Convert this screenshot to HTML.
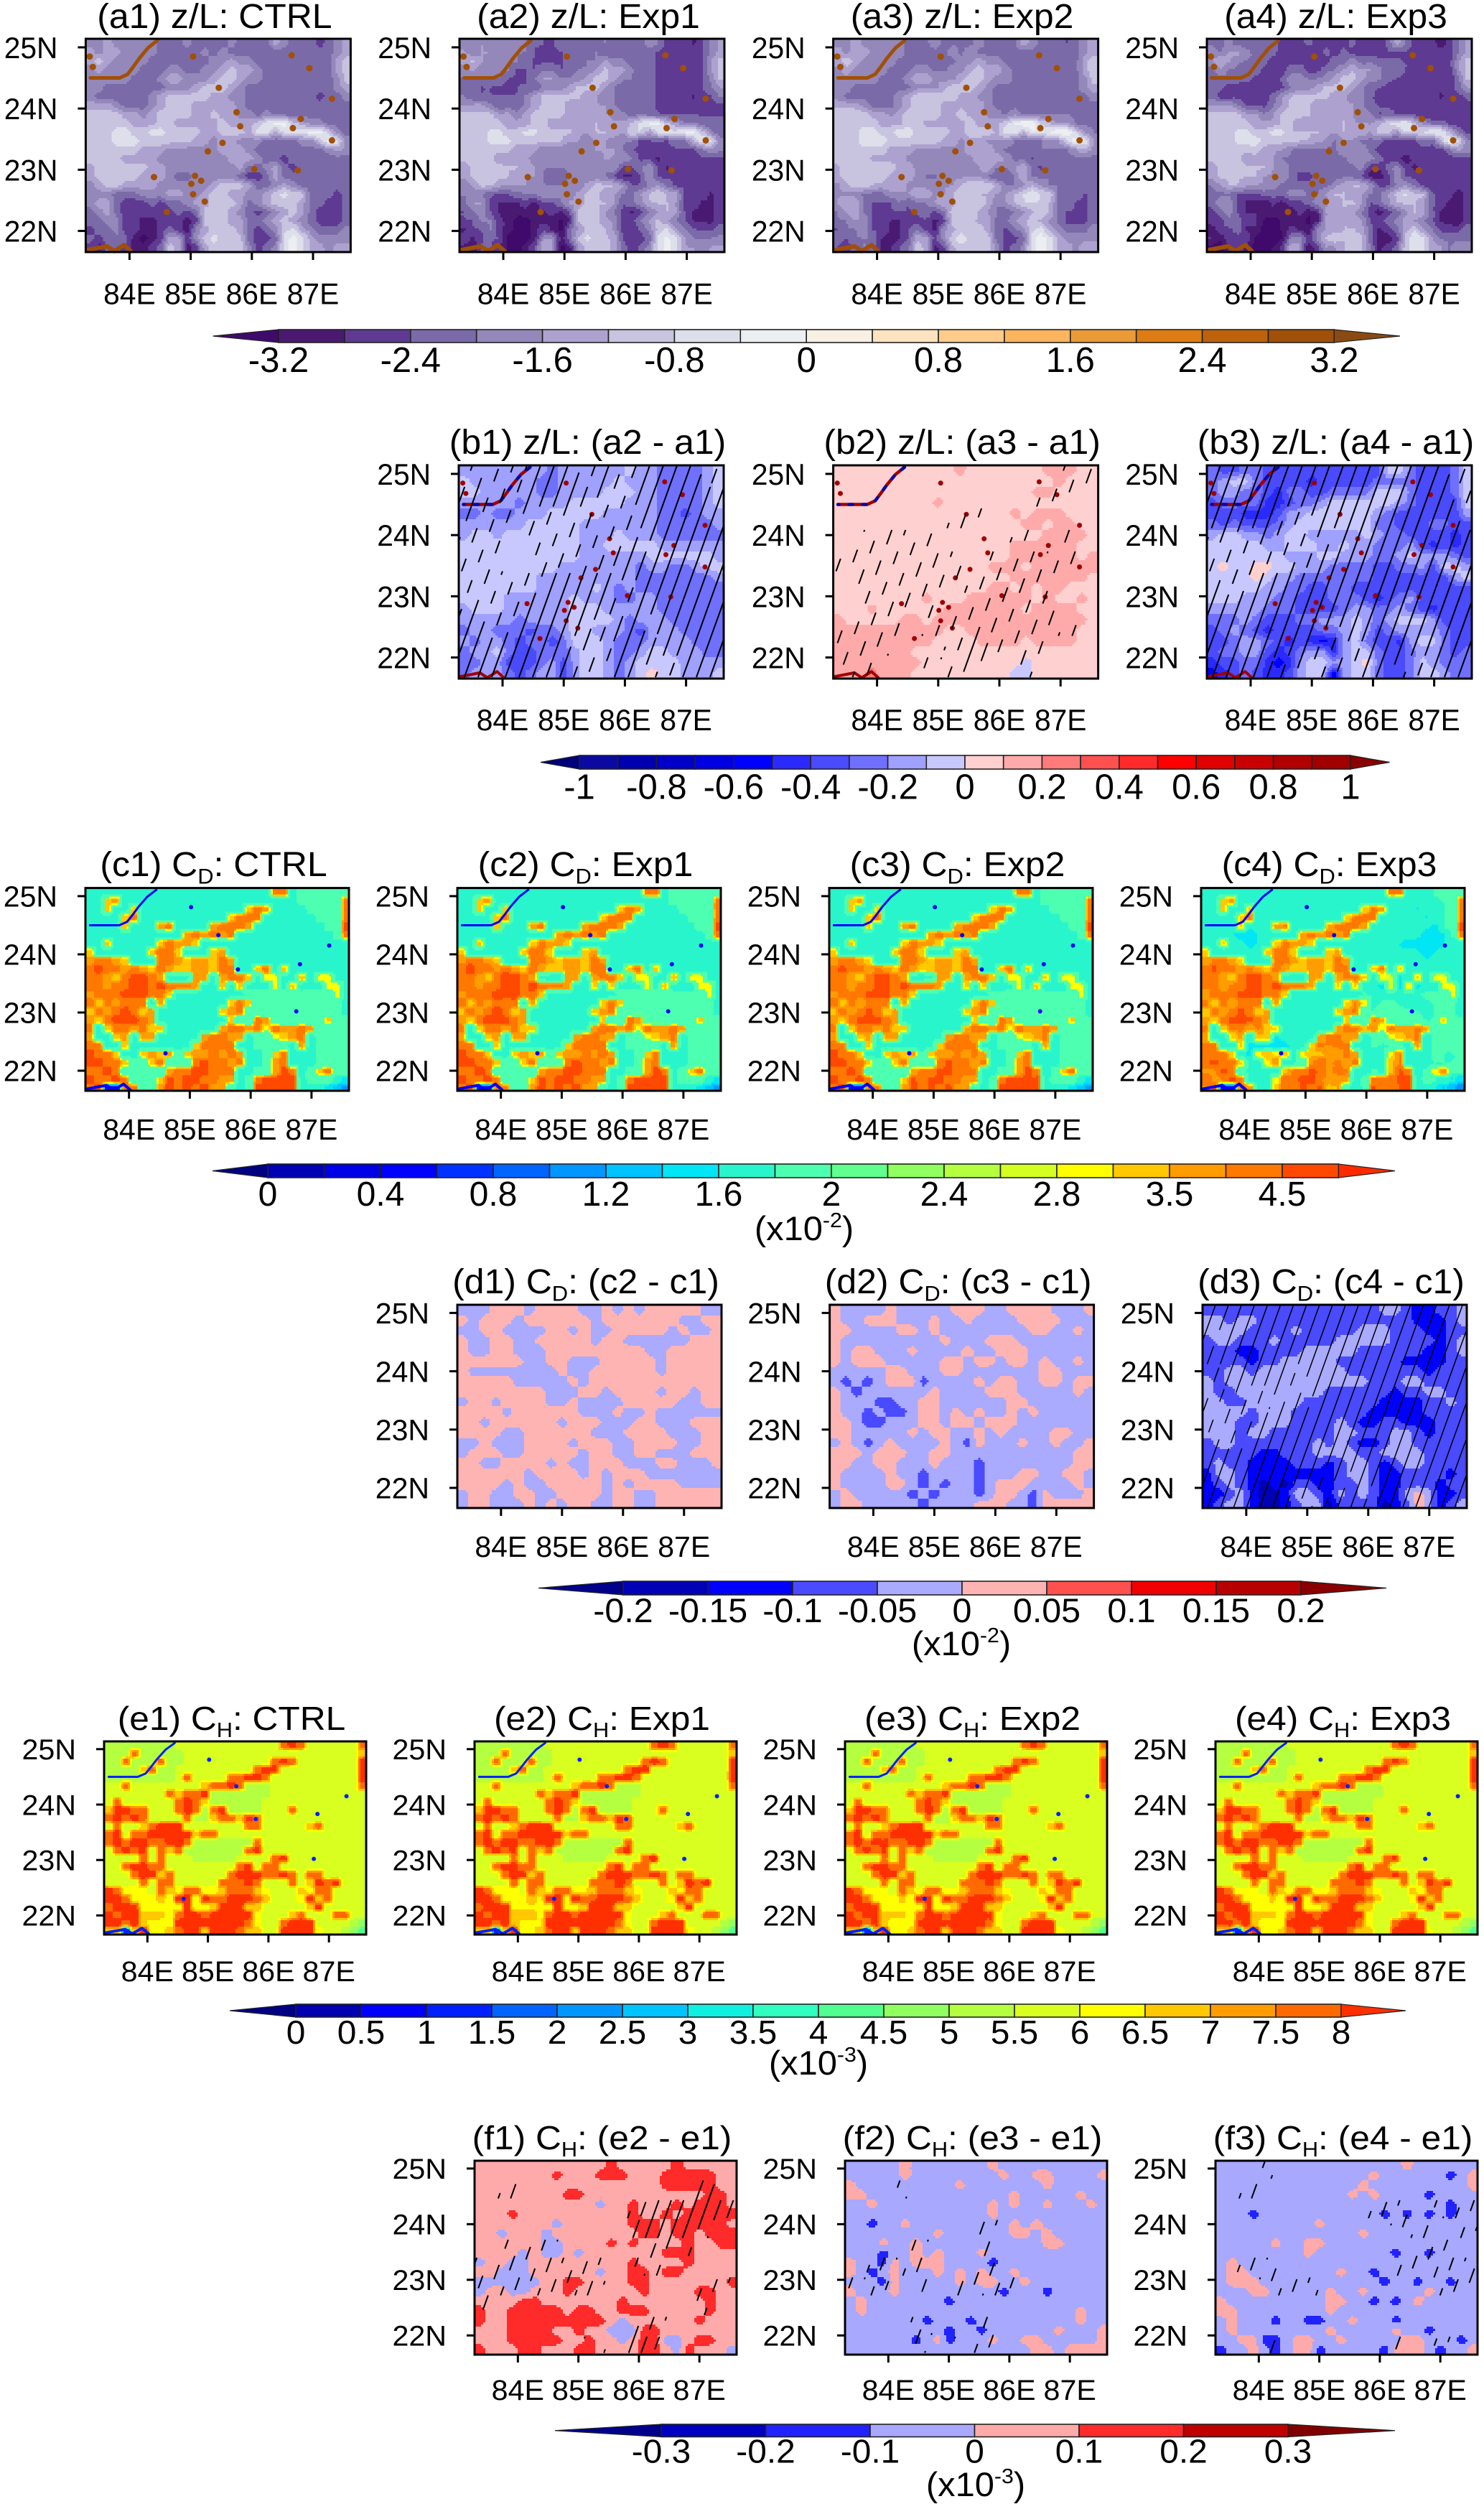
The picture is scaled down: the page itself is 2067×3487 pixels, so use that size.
<!DOCTYPE html>
<html lang="en">
<head>
<meta charset="utf-8">
<title>z/L, CD and CH maps</title>
<style>
html,body{margin:0;padding:0;background:#fff}
svg{display:block}
text{font-family:"Liberation Sans",Arial,sans-serif;fill:#000}
</style>
</head>
<body>
<svg id="figure" xmlns="http://www.w3.org/2000/svg" width="2067" height="3487" viewBox="0 0 2067 3487"></svg>
<script>
const lonTicks=[84,85,86,87];
const latTicks=[25,24,23,22];
const lonRange=[83.284,87.615];
const latRange=[25.14,21.655];

const paletteZl=['#3f0a6b','#4a1a72','#5e3a92','#7b6aa8','#9488ba','#ada2cf','#c8c3df','#dddfea','#eceef2','#f8f1e3','#fde3c0','#fdcb8a','#fdb45f','#eb9a38','#dc7c12','#bd620a','#a05007','#8a4a12'];
const paletteZlDiff=['#00007a','#0a0aa0','#0000b0','#0000c8','#0000e0','#0000ff','#2a2aff','#4a4aff','#7070ff','#a0a0ff','#c8c8ff','#ffd0d0','#ffaaaa','#ff7a7a','#ff5050','#ff2a2a','#ff0000','#e00000','#c80000','#b00000','#a00000','#8a0000'];
const paletteCd=['#000080','#0000b4','#0000e6','#0000ff','#0032ff','#0064ff','#0096ff','#00c4ff','#00e6f5','#28f5cc','#4dffb0','#60ff90','#90ff60','#b4ff40','#d4ff20','#ffff00','#ffc800','#ff9c00','#ff7800','#ff4800','#ff2a00'];
const paletteCdDiff=['#00008a','#0000b4','#0000ff','#4a4aff','#aaaaff','#ffb4b4','#ff5050','#f00000','#b80000','#8a0000'];
const paletteCh=['#000080','#0000b0','#0000ff','#0020ff','#0064ff','#0096ff','#00c4ff','#10f0e0','#30ffc0','#50ff90','#90ff60','#b4ff40','#d8ff20','#ffff00','#ffc800','#ff9c00','#ff6a00','#ff3000'];
const paletteChDiff=['#00008a','#0000c0','#2222ff','#a8a8ff','#ffaaaa','#ff2a2a','#c00000','#800000'];

const barLabelsZl=['-3.2','-2.4','-1.6','-0.8','0','0.8','1.6','2.4','3.2'];
const barLabelsZlDiff=['-1','-0.8','-0.6','-0.4','-0.2','0','0.2','0.4','0.6','0.8','1'];
const barLabelsCd=['0','0.4','0.8','1.2','1.6','2','2.4','2.8','3.5','4.5'];
const barLabelsCdDiff=['-0.2','-0.15','-0.1','-0.05','0','0.05','0.1','0.15','0.2'];
const barLabelsCh=['0','0.5','1','1.5','2','2.5','3','3.5','4','4.5','5','5.5','6','6.5','7','7.5','8'];
const barLabelsChDiff=['-0.3','-0.2','-0.1','0','0.1','0.2','0.3'];

const riverLons=[84.45,84.30,84.16,84.06,83.97,83.84,83.36];
const riverLats=[25.11,24.99,24.82,24.68,24.56,24.50,24.50];
const southLakeLons=[83.32,83.63,83.75,83.91,84.02];
const southLakeLats=[21.69,21.75,21.67,21.77,21.67];
const hotSpotLons=[85.04,86.65,86.94,85.46,87.31,85.75,86.80,85.81,86.67,87.31,85.52,85.28,86.75,86.04,84.40,85.07,85.17,85.01,85.04,84.61,85.23,83.40,83.35];
const hotSpotLats=[24.85,24.87,24.66,24.34,24.16,23.94,23.83,23.71,23.68,23.48,23.44,23.30,22.99,23.01,22.88,22.90,22.82,22.77,22.60,22.31,22.48,24.68,24.85];
const lakeLons=[85.02,87.29,86.81,85.79,86.75,84.60,85.47];
const lakeLats=[24.81,24.15,23.83,23.74,23.02,22.30,24.33];

const zlCtrl=[
[4,4,5,4,4,4,4,4,3,3,3,4,3,3,3,3,4,3,3,3,3,5,4,3,3,3,2,3,4,5],
[5,4,5,5,4,4,4,4,3,3,3,3,3,4,3,4,3,3,3,3,3,3,3,3,3,3,3,3,4,5],
[5,6,5,4,4,4,4,3,3,3,3,3,3,3,4,4,5,4,4,3,3,3,3,3,3,3,3,3,5,6],
[4,5,4,4,4,4,3,3,3,4,4,3,3,4,4,5,6,5,5,4,3,3,3,3,3,3,3,3,5,6],
[4,4,4,4,4,3,3,3,4,5,5,4,4,4,5,6,6,5,4,4,3,3,3,3,3,3,3,3,4,6],
[4,4,3,3,3,3,3,3,3,4,4,4,5,6,6,6,5,4,3,3,3,3,3,3,3,3,3,3,4,5],
[4,3,3,3,3,3,3,4,5,6,6,6,6,6,5,5,4,4,3,3,3,3,3,3,3,3,2,3,3,4],
[5,5,5,4,3,3,3,4,5,6,6,6,5,5,5,5,5,4,3,3,3,3,3,3,3,3,3,3,3,3],
[6,6,6,6,5,5,4,5,6,6,6,6,5,5,6,5,5,4,4,3,4,3,3,3,3,3,3,3,3,3],
[6,6,6,6,6,5,5,5,6,6,5,5,5,5,5,6,5,5,5,6,7,8,8,6,5,4,4,3,3,3],
[6,6,6,7,7,6,6,7,7,6,6,6,6,5,5,6,6,6,5,7,7,5,7,7,7,8,8,6,4,3],
[6,6,6,7,7,7,6,6,6,6,6,6,5,5,4,5,5,4,4,4,3,3,3,3,4,4,6,8,7,4],
[6,6,6,6,6,6,5,5,5,4,4,4,4,4,4,5,5,5,4,3,3,3,3,3,3,3,3,4,5,4],
[6,6,6,6,5,5,5,5,4,4,4,4,4,4,4,4,5,5,5,4,3,3,2,3,3,3,3,3,3,3],
[5,6,6,6,6,6,6,5,5,4,4,4,4,4,4,4,4,5,3,3,4,5,3,2,3,3,3,3,3,3],
[5,6,6,6,6,6,5,5,5,4,3,3,4,4,4,4,4,3,2,2,3,5,3,3,3,3,3,3,3,3],
[4,5,6,6,5,5,5,5,4,4,4,4,4,4,5,6,6,6,5,3,3,4,5,4,3,3,3,3,3,3],
[4,4,4,3,3,3,4,4,4,5,5,4,4,5,6,6,5,5,4,4,5,6,7,6,6,3,3,3,2,3],
[4,5,5,3,2,2,2,3,2,3,3,4,5,5,6,6,6,5,3,4,5,6,6,6,5,3,3,2,2,3],
[3,4,5,3,2,2,2,2,2,2,3,2,3,6,6,6,5,4,3,2,3,4,5,6,5,3,2,2,2,3],
[3,3,4,4,2,2,1,1,2,2,2,1,2,6,6,6,5,5,3,3,4,5,6,5,4,3,2,2,2,3],
[2,3,3,4,2,2,1,1,2,3,2,1,4,5,6,6,6,5,3,2,3,4,6,7,5,4,3,3,3,4],
[3,2,3,3,3,1,0,1,2,5,5,2,4,6,7,6,6,6,3,2,2,3,7,8,7,5,4,4,4,4],
[2,1,3,3,2,1,1,2,3,6,5,1,2,5,6,6,6,6,4,2,3,4,7,8,7,5,5,4,5,5]];

const zlDiffExp1=[
[9,9,9,9,9,9,9,9,8,9,9,9,9,9,9,10,9,9,8,8,8,8,9,10],
[10,9,9,9,9,9,9,8,8,9,9,9,9,9,10,9,9,9,8,8,8,8,9,10],
[10,10,9,9,9,9,9,8,8,9,9,9,9,10,10,10,9,9,8,8,8,8,9,10],
[9,9,9,9,9,8,9,9,9,9,10,10,10,10,10,9,9,9,8,8,8,8,9,10],
[8,8,9,8,8,9,9,9,10,10,10,10,10,9,9,9,9,9,8,8,7,8,9,9],
[9,9,9,9,9,9,10,10,10,10,10,9,9,9,9,9,9,9,8,8,8,8,8,9],
[9,10,10,9,10,10,10,10,10,10,10,9,9,9,10,9,9,9,8,8,8,8,8,8],
[10,10,10,10,10,10,10,10,10,10,10,9,9,10,10,10,10,10,9,9,9,9,9,9],
[10,10,10,10,10,10,10,10,10,10,10,9,9,9,9,9,9,10,10,10,10,10,10,9],
[10,10,10,10,10,10,10,10,10,9,9,9,9,9,9,9,8,9,9,8,8,9,10,10],
[10,10,10,10,10,10,10,9,9,9,9,9,9,9,9,9,8,8,8,8,8,8,8,9],
[10,10,10,10,10,10,10,9,9,9,9,9,10,9,8,9,8,8,8,8,8,8,8,8],
[10,10,10,10,9,9,9,9,9,9,10,9,9,9,8,8,9,9,8,8,8,8,8,8],
[9,10,10,10,9,9,9,9,9,9,10,10,10,9,9,9,9,9,8,8,8,8,8,8],
[9,9,9,9,9,8,9,9,9,9,10,10,10,10,9,8,9,9,9,8,8,8,8,8],
[8,9,9,8,8,8,7,8,8,9,10,10,9,9,9,8,7,9,9,9,8,8,8,8],
[9,8,9,9,8,7,8,8,7,8,10,10,10,9,8,8,8,9,9,9,9,8,8,8],
[8,9,9,10,8,7,7,8,8,8,9,10,10,9,8,8,9,10,10,9,9,9,8,8],
[8,8,9,9,7,7,7,8,9,7,9,10,10,9,8,9,10,10,10,10,9,9,9,9],
[8,9,9,9,8,7,8,9,9,7,9,10,10,9,8,9,10,11,10,10,9,9,9,10]];

const zlDiffExp2=[
[11,11,11,11,11,11,11,11,11,11,11,12,11,11,11,11,11,11,11,12,12,12,11,11],
[11,11,11,11,11,11,11,11,11,11,11,11,11,11,11,11,11,11,11,11,12,11,11,11],
[11,11,11,11,11,11,11,11,11,11,11,11,11,11,11,11,11,11,12,12,11,11,11,11],
[11,11,11,11,11,11,11,11,11,12,11,11,11,11,11,11,11,11,11,11,11,11,11,11],
[11,11,11,11,11,11,11,11,11,11,11,11,11,11,11,11,12,11,12,12,12,11,11,11],
[11,11,11,11,11,11,11,11,11,11,11,11,11,11,11,11,11,12,12,11,12,12,11,11],
[11,11,11,11,11,11,11,11,11,11,11,11,11,11,11,11,11,11,11,12,12,12,12,11],
[11,11,11,11,11,11,11,11,11,11,11,11,11,11,11,11,12,12,12,12,12,12,11,11],
[11,11,11,11,11,11,11,11,11,11,11,11,11,11,11,11,12,12,12,12,12,12,11,12],
[11,11,11,11,11,11,11,11,11,11,11,11,11,11,12,12,12,11,12,12,12,12,12,12],
[11,11,11,11,11,11,11,11,11,11,11,11,11,11,11,11,12,12,12,12,12,12,12,11],
[11,11,11,11,11,11,11,11,11,11,11,11,11,11,12,12,11,12,11,12,12,11,11,11],
[11,11,11,11,11,11,11,11,12,11,11,11,12,12,12,12,12,12,11,12,11,11,12,11],
[11,11,11,12,11,11,11,11,11,11,12,12,12,12,12,12,12,11,12,12,12,12,11,11],
[12,11,11,11,11,11,12,12,11,12,12,12,12,12,12,12,12,12,12,12,12,12,12,11],
[12,12,12,12,12,12,12,12,12,12,11,11,12,12,12,12,12,12,12,12,12,12,11,11],
[12,12,12,12,12,12,12,12,12,11,11,11,11,12,12,12,12,11,12,12,12,12,11,11],
[12,12,12,12,12,12,12,11,11,11,11,11,11,11,11,11,11,11,11,11,11,11,11,11],
[12,12,12,12,12,12,12,12,11,11,11,11,11,11,11,11,11,10,11,11,11,11,11,11],
[12,12,12,13,12,12,12,11,11,11,11,11,11,11,11,11,10,10,11,11,11,11,11,11]];

const zlDiffExp3=[
[8,7,7,8,8,7,7,7,7,7,7,7,7,7,7,7,10,10,8,7,7,7,8,10],
[8,9,10,10,8,7,7,7,7,6,7,7,7,7,7,8,8,8,8,7,7,7,8,10],
[8,9,9,8,8,7,6,8,8,7,7,8,8,8,8,10,10,10,8,7,7,7,8,10],
[7,8,8,8,8,6,6,7,8,8,9,10,10,10,10,10,10,9,8,7,7,7,7,10],
[7,7,7,6,6,6,7,9,9,10,10,10,10,10,10,9,8,7,7,7,7,7,7,9],
[8,7,8,7,7,7,8,9,10,10,10,10,10,10,10,8,8,7,7,7,8,8,7,7],
[9,10,10,9,9,8,9,10,10,9,9,9,9,9,10,9,8,8,7,7,7,7,6,7],
[10,10,10,10,10,9,9,10,10,10,9,9,10,9,9,8,8,8,9,7,6,7,6,7],
[10,10,10,10,10,10,10,9,9,9,10,10,9,9,9,8,8,9,10,9,9,9,8,7],
[10,11,10,10,11,11,10,10,9,9,9,8,8,8,8,7,7,8,8,9,7,10,10,9],
[10,10,10,10,11,10,9,9,8,8,8,8,8,8,8,7,7,7,7,7,7,7,9,10],
[10,10,10,10,10,9,9,8,8,7,7,8,8,7,7,7,7,7,7,7,7,7,7,7],
[10,10,10,9,9,9,8,8,7,7,7,8,8,8,7,6,7,8,9,7,7,7,7,7],
[9,9,9,9,9,8,8,8,7,7,7,7,8,9,9,8,8,9,8,7,6,7,7,7],
[8,8,8,9,8,7,7,7,8,8,9,9,9,10,9,8,9,10,10,10,9,7,7,7],
[7,8,9,8,7,6,7,7,7,7,8,8,9,10,9,7,8,9,9,9,9,8,7,7],
[7,7,8,9,9,8,7,6,7,6,5,6,9,10,8,7,7,6,9,10,10,8,7,7],
[7,8,8,9,9,7,6,7,8,9,9,6,9,10,10,8,7,7,8,9,9,8,7,8],
[6,7,7,8,8,6,5,6,9,10,10,9,9,10,11,8,7,7,8,10,9,8,8,8],
[5,6,7,8,7,6,6,7,9,10,10,5,9,10,10,8,7,7,8,10,10,9,8,8]];

const cdCtrl=[
[9,9,9,9,9,9,9,9,9,9,9,9,9,9,9,9,9,9,9,9,9,18,18,9,10,10,10,10,10,10],
[9,9,16,17,9,9,9,9,9,9,9,9,9,9,9,9,9,9,9,9,9,9,9,9,10,10,10,10,10,18],
[9,9,16,9,9,16,9,9,9,9,9,9,9,9,9,9,9,9,16,18,17,9,9,9,9,10,10,10,10,18],
[9,9,9,9,16,18,9,9,9,9,9,9,9,9,9,9,16,18,18,18,9,9,9,9,9,9,10,10,10,18],
[9,9,9,9,16,9,9,9,17,18,9,9,9,9,17,18,18,18,17,9,9,9,9,9,9,9,9,10,10,19],
[9,9,9,9,9,9,9,9,9,9,9,17,18,17,18,17,18,9,9,9,9,9,9,9,9,9,9,9,10,18],
[9,9,16,9,9,9,9,9,16,18,17,17,16,9,9,9,9,9,9,9,9,9,9,9,9,9,9,9,9,9],
[16,9,9,9,9,9,9,16,18,18,16,9,9,9,16,17,9,9,9,9,9,9,9,9,9,9,9,9,9,9],
[17,18,18,17,16,9,9,9,18,18,17,16,17,17,16,18,17,9,9,9,9,9,9,9,9,9,9,9,9,9],
[18,19,18,18,17,18,17,16,18,17,16,16,17,17,16,18,18,9,9,16,18,9,16,9,9,9,9,9,9,9],
[18,18,17,16,18,19,19,18,17,9,9,9,17,17,9,17,18,18,16,9,15,15,9,9,16,9,15,15,9,9],
[18,18,17,18,18,19,19,18,19,18,18,18,17,9,9,16,9,16,9,9,9,15,9,16,9,9,9,15,15,9],
[17,18,18,18,19,19,19,18,18,16,9,9,9,9,9,9,9,9,10,10,10,10,10,10,10,10,10,10,15,9],
[18,16,18,17,18,18,18,9,17,9,9,9,9,9,9,9,16,18,16,10,10,10,10,10,10,10,10,10,10,9],
[16,18,17,18,19,18,16,17,9,9,9,9,9,9,9,16,17,18,10,10,10,10,10,10,10,10,10,10,10,9],
[17,16,18,19,19,19,18,17,9,9,9,9,9,9,9,9,16,10,10,18,17,10,10,10,10,10,10,16,10,10],
[18,9,16,18,18,17,18,16,16,9,9,9,9,9,9,17,18,18,17,18,15,18,17,17,18,17,10,10,10,10],
[17,9,9,16,17,9,17,17,9,9,9,9,9,17,18,18,17,17,9,10,10,15,16,17,18,9,10,10,10,10],
[18,18,9,9,16,9,9,9,9,9,9,9,16,18,18,18,18,9,9,10,10,10,10,9,17,9,10,10,10,10],
[19,18,18,16,9,9,16,17,16,17,10,16,17,17,18,17,18,17,9,9,10,16,18,9,9,9,10,10,10,10],
[19,19,18,18,16,10,10,16,18,10,10,10,18,19,18,18,17,18,9,9,10,17,18,9,9,9,10,10,10,10],
[18,18,19,18,10,10,10,10,10,17,18,18,19,19,18,18,18,9,9,10,10,17,19,18,9,10,16,18,10,10],
[19,18,18,19,18,10,10,10,16,19,18,19,19,18,18,17,17,9,10,18,19,19,19,19,9,10,10,10,9,8],
[18,19,3,3,18,18,10,10,17,19,18,19,18,19,17,17,10,9,10,19,19,19,19,19,9,9,9,8,7,6]];

const cdDiffExp1=[
[4,4,4,5,5,5,4,5,5,5,5,4,4,5,4,5,4,5,5,5,5,5,4,4],
[5,4,5,5,5,4,5,5,5,5,5,5,4,5,5,5,5,5,5,5,4,4,5,5],
[4,4,5,5,4,4,4,4,5,5,4,5,4,4,5,5,5,5,5,4,5,4,4,5],
[5,4,4,5,5,4,4,5,5,5,5,5,4,5,5,4,4,4,4,4,4,5,5,5],
[5,4,4,5,5,4,4,4,5,5,5,5,5,5,5,5,5,4,4,5,5,5,5,5],
[5,5,5,5,5,5,4,4,5,5,4,4,4,5,5,5,5,5,4,5,5,5,5,5],
[5,4,4,4,4,4,4,4,4,5,4,4,5,5,5,5,5,5,4,5,5,5,5,5],
[5,5,5,5,5,4,4,4,4,4,5,4,5,5,5,5,5,5,5,5,5,5,5,5],
[5,5,5,5,5,5,5,5,4,4,4,5,5,4,5,5,5,5,4,5,5,4,5,5],
[4,5,5,4,5,5,5,5,4,4,5,4,4,4,4,5,5,5,5,5,4,4,5,5],
[5,5,5,5,4,5,5,5,5,5,5,4,4,4,5,4,4,5,4,4,4,4,4,4],
[5,5,4,5,5,5,5,5,5,4,5,5,5,4,4,4,5,5,4,4,4,5,5,5],
[5,5,5,5,4,4,5,5,5,5,5,5,4,4,4,5,5,5,5,4,4,4,5,5],
[4,4,5,4,4,4,5,5,5,5,4,5,5,5,4,4,5,5,5,5,4,4,5,5],
[4,5,5,5,4,4,5,5,5,5,5,4,5,5,4,4,5,5,4,4,4,5,5,5],
[5,5,4,4,5,5,5,5,4,5,4,4,5,5,5,4,4,4,5,5,4,4,4,5],
[5,5,5,5,5,5,4,5,5,5,5,4,5,4,5,5,5,4,4,4,4,4,4,4],
[5,5,5,5,4,5,4,4,5,5,5,5,5,4,5,4,5,5,5,5,4,4,4,4],
[4,5,5,4,4,5,5,4,4,5,5,5,5,4,5,5,4,4,5,5,5,5,5,5],
[4,5,5,4,4,4,5,4,5,4,5,5,4,4,5,5,4,4,5,5,5,5,5,5]];

const cdDiffExp2=[
[5,4,4,4,4,5,4,4,4,4,4,5,5,5,4,4,5,5,5,5,4,4,4,5],
[5,4,4,5,5,5,4,4,4,5,4,4,5,4,4,4,4,5,5,5,5,4,4,4],
[5,5,4,4,4,4,5,5,4,5,4,4,4,4,4,4,4,4,5,5,4,4,5,4],
[5,4,4,4,4,4,4,4,4,4,5,4,4,4,5,5,5,4,4,4,4,4,4,4],
[5,4,5,5,4,4,4,5,4,4,4,4,5,4,4,5,5,5,4,4,4,4,4,4],
[5,4,5,5,5,4,4,4,4,4,5,5,4,5,5,4,5,5,4,5,4,4,5,4],
[4,4,4,4,4,5,5,4,4,4,5,5,4,4,4,4,4,4,4,5,5,4,4,4],
[4,3,4,3,4,5,5,5,3,4,4,4,4,5,4,5,5,4,4,5,5,4,5,5],
[5,4,3,4,4,4,4,4,4,5,4,4,4,4,5,5,5,4,4,4,4,4,5,4],
[5,4,4,4,3,3,4,4,5,5,4,4,4,4,4,4,5,5,4,4,4,4,4,4],
[5,4,4,3,4,3,3,4,5,5,4,5,4,5,4,4,5,4,5,4,4,4,4,4],
[5,5,4,3,3,4,4,4,5,5,4,5,5,4,5,5,5,4,4,4,4,4,4,4],
[5,5,4,4,4,4,4,5,4,5,5,4,4,5,4,5,4,4,4,4,5,5,4,4],
[4,5,4,3,4,5,4,4,4,4,5,4,3,5,4,4,4,5,4,4,5,4,4,5],
[5,5,5,4,5,5,5,4,4,5,5,4,4,4,4,4,4,4,4,4,4,4,5,5],
[5,5,4,4,5,5,4,4,4,5,4,4,4,3,4,4,4,4,4,4,4,4,5,5],
[5,4,4,4,4,5,4,4,3,4,4,4,4,3,4,4,4,5,5,4,4,5,5,4],
[5,4,4,4,4,5,5,4,3,4,3,4,4,3,4,5,5,5,4,4,4,4,5,4],
[4,5,4,4,4,4,4,3,4,3,4,4,4,3,4,5,5,4,3,5,4,4,4,5],
[4,5,5,4,4,4,4,4,3,4,4,4,4,5,5,5,4,4,3,5,5,5,5,5]];

const cdDiffExp3=[
[3,3,3,3,3,3,3,3,3,3,3,3,3,3,3,3,4,4,3,2,2,3,3,4],
[4,4,3,4,4,3,3,3,3,3,3,3,3,3,3,3,3,3,3,2,2,2,3,4],
[4,4,4,4,3,3,3,3,4,3,3,3,3,3,4,4,4,3,3,3,2,2,3,3],
[3,4,4,3,3,3,4,3,3,3,3,3,4,4,4,4,4,3,3,3,3,2,3,4],
[3,3,3,2,2,3,3,3,3,4,4,4,4,4,3,3,3,3,3,3,2,2,3,4],
[3,3,3,3,2,3,3,4,4,4,4,4,3,3,3,3,3,3,2,2,2,2,3,3],
[3,3,4,4,3,4,4,4,4,4,4,4,4,3,3,3,3,3,3,3,2,3,3,3],
[4,3,4,4,4,4,4,4,4,4,4,4,4,4,4,3,3,3,4,4,3,3,3,3],
[4,3,3,4,4,4,4,4,4,4,4,3,3,3,3,3,3,2,3,3,4,4,3,3],
[4,4,3,3,4,4,4,4,4,3,3,3,3,3,3,3,2,2,2,2,3,3,4,3],
[4,4,4,4,3,4,4,4,3,3,3,3,3,3,3,2,2,2,2,2,3,3,3,3],
[4,4,4,3,3,4,4,4,3,3,3,3,4,3,2,2,3,3,2,2,2,3,3,3],
[4,4,4,3,4,4,3,3,3,3,3,3,4,4,3,3,3,4,4,3,2,3,3,3],
[3,4,4,3,3,3,3,3,3,3,4,3,4,3,2,2,3,4,4,3,3,3,3,3],
[3,3,3,3,3,2,2,3,3,3,4,4,4,4,3,3,4,4,4,4,3,3,3,3],
[3,4,3,3,2,2,2,2,3,3,3,2,3,4,4,3,2,3,4,4,3,3,3,3],
[2,4,4,3,2,2,2,2,2,2,2,2,3,4,4,3,2,2,3,3,3,3,2,3],
[2,3,4,3,2,1,2,1,3,3,2,2,3,3,4,3,2,2,3,3,3,2,3,3],
[2,2,3,4,2,1,1,2,4,4,3,2,4,3,4,3,2,2,4,5,4,2,2,3],
[2,3,4,4,2,1,1,2,3,4,4,1,3,3,3,3,1,2,3,5,4,2,3,4]];

const chCtrl=[
[11,11,11,11,11,11,11,11,12,12,12,12,12,12,12,12,12,12,12,12,16,17,16,12,12,12,12,12,12,16],
[11,11,11,16,11,11,11,11,11,12,12,12,12,12,12,12,12,12,12,12,12,12,12,12,12,12,12,12,12,14],
[11,11,16,11,11,11,16,11,11,12,12,12,12,12,12,12,12,12,12,16,17,16,12,12,12,12,12,12,12,17],
[11,11,11,11,14,16,11,11,12,12,12,12,12,12,12,12,12,16,17,17,12,12,12,12,12,12,12,12,12,17],
[11,11,11,11,11,11,11,11,12,16,12,12,12,12,16,16,17,17,16,12,12,12,12,12,12,12,12,12,12,17],
[12,12,16,12,12,12,12,12,12,12,12,14,16,16,17,16,11,11,11,12,12,12,12,12,12,12,12,12,12,16],
[12,12,12,12,12,12,12,16,14,16,16,17,11,11,11,11,11,11,11,12,12,12,12,12,12,12,12,12,12,12],
[12,16,12,12,12,12,12,12,16,17,16,14,11,11,11,11,11,11,12,12,12,12,12,12,12,12,12,12,12,12],
[14,17,17,16,16,12,12,12,16,17,16,11,16,17,11,11,11,11,12,12,12,16,12,12,12,12,12,12,12,12],
[16,17,16,17,16,12,12,12,12,16,11,11,14,16,16,14,17,16,12,12,12,12,12,12,12,12,12,12,12,12],
[12,16,12,12,14,16,17,17,17,12,12,12,12,12,12,12,16,16,12,12,12,12,12,14,16,12,12,12,12,12],
[16,17,12,16,16,17,17,17,17,17,14,16,16,12,12,12,12,12,12,12,12,12,12,12,12,12,12,12,12,12],
[16,17,16,17,17,16,16,17,17,16,11,11,11,11,11,11,11,16,12,12,12,12,12,12,12,12,12,12,12,12],
[12,16,17,16,17,12,16,14,16,11,11,11,11,11,11,11,16,17,12,12,12,12,12,12,12,12,12,12,12,12],
[12,12,12,12,16,12,16,12,12,12,11,11,11,11,11,12,12,12,12,16,17,12,12,12,12,12,12,12,12,12],
[12,12,16,17,17,16,16,12,12,12,12,12,12,12,12,16,17,12,16,16,12,12,12,12,12,12,12,12,12,12],
[12,12,12,16,17,17,14,16,12,12,12,12,12,12,16,17,17,17,16,16,17,16,12,16,16,12,12,12,12,12],
[12,12,12,12,16,12,16,16,12,12,12,12,12,16,16,16,17,16,12,12,12,16,12,14,17,16,17,12,12,12],
[17,16,13,13,13,12,16,14,13,16,16,13,13,14,16,16,16,14,13,12,12,12,14,13,16,16,12,12,12,12],
[17,17,16,13,13,13,14,13,17,17,13,17,16,16,17,17,17,16,14,12,12,12,13,17,14,16,12,12,12,12],
[16,17,17,17,13,13,13,13,13,17,13,13,14,17,17,17,14,14,12,12,12,12,12,14,17,12,12,12,12,12],
[17,16,17,17,14,14,14,13,16,17,17,16,17,17,17,17,17,13,12,12,12,14,16,12,12,12,16,16,12,12],
[17,17,16,17,14,13,13,13,17,17,17,17,17,17,17,17,16,13,12,12,16,17,17,17,12,12,12,12,11,10],
[14,14,3,14,17,13,13,14,16,17,17,14,17,17,17,16,14,14,12,12,17,17,17,17,13,12,12,11,10,9]];

const chDiffExp1=[
[4,4,4,4,4,4,4,4,4,4,4,4,5,4,4,4,4,4,5,4,4,4,4,4],
[4,4,4,4,4,4,4,5,4,4,4,5,5,5,4,4,4,5,5,5,5,5,4,4],
[4,4,4,4,4,4,4,4,4,4,4,4,4,4,4,4,4,5,5,5,5,5,4,4],
[4,4,4,4,4,4,4,4,5,5,4,4,4,4,4,4,4,4,4,4,4,5,5,4],
[4,4,4,4,4,4,4,4,4,4,4,3,4,4,5,4,4,4,5,4,5,5,5,4],
[4,4,4,5,4,4,4,4,4,4,4,4,4,4,5,4,4,5,4,5,5,5,5,5],
[4,4,4,4,4,4,4,3,4,4,4,4,4,4,5,5,5,4,5,5,5,5,5,4],
[4,4,3,4,4,4,3,4,4,4,4,4,4,4,4,5,5,4,5,5,4,5,5,5],
[4,4,4,4,4,4,3,3,4,4,4,4,5,4,5,4,4,4,4,5,4,4,5,5],
[4,4,4,4,3,4,3,3,4,3,4,4,4,4,4,4,4,5,5,5,4,4,4,4],
[3,4,4,3,3,4,4,4,4,4,4,4,4,4,5,4,4,4,4,5,4,4,4,4],
[4,4,3,3,3,4,4,4,4,4,4,3,4,4,5,5,4,5,5,4,4,4,4,4],
[3,3,3,3,3,3,4,4,5,5,4,4,4,4,5,5,4,4,4,4,4,4,4,5],
[3,4,4,3,3,4,4,4,5,4,4,4,4,4,4,5,4,4,4,4,5,5,4,4],
[4,4,4,4,5,5,4,4,4,4,4,4,4,5,4,4,4,4,4,4,4,5,4,4],
[5,4,4,5,5,5,5,5,4,5,5,4,4,5,5,5,4,4,4,4,4,5,4,4],
[5,4,4,5,5,5,5,5,5,5,5,5,4,3,4,4,4,4,4,4,5,4,4,4],
[4,4,4,5,5,5,5,4,4,5,4,4,3,3,3,5,5,4,4,4,4,4,4,4],
[4,4,4,5,5,5,5,5,4,4,5,4,4,3,4,5,5,3,3,4,5,5,4,4],
[5,4,4,4,5,5,4,4,4,5,5,4,4,4,4,5,5,4,3,5,4,4,4,3]];

const chDiffExp2=[
[3,3,3,3,3,4,3,3,3,3,3,3,3,4,3,3,3,3,3,3,3,3,3,3],
[3,3,3,3,3,4,3,3,3,3,3,3,3,3,4,3,3,4,4,3,3,3,3,4],
[4,3,3,3,3,3,3,3,3,3,4,3,3,3,3,3,3,3,4,3,3,3,3,3],
[4,4,3,3,3,3,3,3,3,3,3,3,3,3,3,4,3,3,3,3,3,4,3,3],
[3,3,4,3,3,3,3,3,3,3,3,3,3,4,3,4,3,3,4,3,3,3,4,3],
[3,3,3,3,3,3,3,3,3,3,3,3,3,4,3,3,3,3,3,3,3,3,3,3],
[3,3,2,3,3,4,3,3,3,3,3,3,3,3,3,4,3,4,3,3,3,3,3,3],
[3,3,3,3,3,3,3,3,4,3,3,3,3,3,3,4,4,3,4,3,3,3,3,3],
[3,3,3,4,3,3,4,3,3,3,3,3,3,3,3,3,3,3,4,4,3,3,3,3],
[3,3,3,2,3,3,4,3,4,3,3,3,4,3,3,3,3,3,3,3,3,3,3,3],
[4,3,3,2,4,3,4,4,4,3,3,3,3,2,3,3,3,3,3,3,3,3,3,3],
[4,3,2,3,4,3,3,3,4,3,4,3,4,3,3,4,3,3,3,3,3,3,3,3],
[3,3,3,2,4,3,3,3,3,3,4,3,4,4,3,3,4,3,3,3,3,3,3,3],
[4,3,3,3,4,3,3,3,3,3,3,3,3,3,2,3,3,3,2,3,3,3,3,3],
[3,4,3,3,3,3,3,3,3,2,3,3,3,3,3,3,3,3,3,3,3,3,3,3],
[3,4,3,3,3,3,3,3,3,3,3,3,3,3,3,3,3,3,3,3,3,4,3,3],
[3,3,3,3,3,3,3,2,3,3,3,2,3,3,3,3,3,3,3,3,3,4,3,3],
[3,3,3,3,3,3,3,3,3,2,3,3,2,3,3,3,3,3,3,4,3,3,3,4],
[3,3,3,3,3,3,2,3,4,2,3,3,3,4,3,3,4,4,3,3,3,3,3,4],
[3,3,3,3,3,3,3,3,3,3,3,3,3,3,3,3,3,4,4,3,4,4,4,4]];

const chDiffExp3=[
[3,3,3,3,3,3,3,3,3,3,3,3,3,3,3,3,3,4,3,3,3,3,3,3],
[3,3,3,3,3,3,3,3,3,3,3,3,3,3,4,3,3,3,3,3,3,2,3,4],
[3,3,3,3,3,3,3,3,3,3,3,3,3,4,3,3,3,3,3,3,3,3,3,4],
[3,3,3,3,3,3,3,3,3,3,3,3,4,3,4,3,3,3,3,2,3,3,3,3],
[3,3,3,3,3,3,3,3,3,3,3,3,3,3,3,3,3,3,3,3,3,2,3,3],
[3,3,3,2,3,3,3,3,3,3,3,3,3,3,3,2,3,2,3,2,3,2,3,3],
[3,3,3,3,3,3,3,3,3,4,3,3,3,3,3,3,3,3,3,3,3,3,3,3],
[3,3,3,3,3,3,3,3,3,3,3,3,3,4,3,3,3,3,3,3,3,3,3,3],
[3,3,3,3,3,4,3,3,4,4,3,3,3,3,3,3,3,3,3,3,3,3,3,3],
[3,3,3,3,3,3,3,3,4,3,3,3,3,3,3,3,2,3,3,2,3,3,3,3],
[3,4,3,3,3,3,3,3,3,3,3,3,3,3,3,3,3,3,3,3,3,3,3,3],
[3,4,4,3,3,3,3,3,3,3,3,4,3,3,2,3,3,3,3,3,3,3,3,3],
[3,4,4,4,3,3,3,3,3,3,3,3,3,3,3,2,3,3,2,3,3,2,3,3],
[3,3,3,4,4,3,3,3,3,3,4,3,3,4,3,3,3,3,3,4,3,3,3,3],
[4,3,3,3,3,3,3,3,3,3,4,4,3,3,2,3,2,3,4,3,3,3,3,3],
[4,4,3,3,3,3,3,3,3,3,4,3,3,3,3,3,3,3,3,3,3,3,3,3],
[3,4,3,3,3,2,3,3,2,2,3,3,4,3,3,3,2,3,3,3,3,3,3,3],
[3,4,3,3,3,3,3,3,3,3,4,3,3,3,3,3,4,3,3,2,3,3,3,3],
[3,3,4,4,2,2,3,4,4,3,3,4,3,3,3,3,3,4,4,3,3,3,2,3],
[2,3,3,4,3,2,3,4,4,2,3,3,3,3,3,2,4,4,4,3,2,3,3,4]];

const hatchZl1=[[1,1,1,2,2,1,2,1,2,2,2,1],[2,1,1,2,2,2,1,1,2,2,2,2],[1,1,1,1,1,1,1,1,2,2,2,2],[1,1,0,1,1,1,1,1,1,2,2,2],[1,1,0,1,1,1,1,2,2,2,2,2],[1,1,1,1,2,2,2,1,2,2,2,2],[1,1,1,2,2,2,2,1,2,2,2,2],[2,1,1,2,2,2,1,2,1,2,2,2],[2,2,2,2,2,1,1,2,2,2,2,2],[2,2,2,2,2,1,1,2,1,1,2,2]];
const hatchZl2=[[0,0,0,0,0,0,0,0,0,0,1,1],[0,0,0,0,0,0,0,0,0,1,1,0],[0,0,0,0,0,1,1,0,0,0,0,0],[0,1,1,1,1,0,0,0,1,0,1,0],[1,1,1,1,1,1,0,1,1,1,1,0],[0,1,1,1,1,1,1,1,1,1,0,0],[0,1,1,1,1,0,1,1,1,1,0,0],[1,1,1,0,1,1,1,1,1,1,1,0],[1,1,1,0,0,1,2,1,1,1,0,0],[1,1,0,0,1,1,1,0,1,0,0,0]];
const hatchZl3=[[2,2,2,2,2,2,2,2,2,2,2,1],[2,2,2,2,2,2,2,2,2,2,2,1],[2,2,2,1,1,2,2,2,2,2,2,1],[1,1,1,1,1,1,2,2,2,2,2,2],[1,1,1,1,1,2,2,2,2,2,2,2],[1,1,2,2,2,2,2,2,2,2,2,2],[2,2,2,2,2,2,2,2,2,2,2,2],[2,2,2,2,2,1,2,2,2,2,2,2],[2,2,2,2,2,1,1,2,2,2,2,2],[2,2,2,1,1,1,1,2,1,1,2,2]];
const hatchCd3=[[2,2,2,2,2,2,2,2,2,2,2,2],[1,2,2,2,2,2,2,2,2,2,2,2],[2,2,2,2,2,2,2,2,2,2,2,2],[1,2,2,2,1,2,2,2,2,2,2,2],[1,1,1,1,1,2,2,2,2,2,2,2],[1,1,1,2,2,2,2,2,2,2,2,2],[1,1,2,2,2,2,2,2,2,2,2,2],[2,2,2,2,2,2,2,2,2,2,2,2],[2,2,2,2,2,1,1,2,2,2,2,2],[2,2,2,2,1,1,2,1,2,2,2,2]];
const hatchCh1=[[0,0,0,0,0,0,0,0,0,0,0,0],[0,1,0,0,0,0,0,0,0,0,2,0],[0,0,0,0,0,0,0,1,2,2,2,2],[0,0,0,0,0,0,0,2,2,2,1,0],[0,1,1,1,0,0,0,0,1,1,0,0],[1,1,1,1,1,1,0,1,1,0,0,0],[1,1,1,1,1,1,0,0,0,0,1,1],[1,0,0,0,0,0,0,0,0,0,1,0],[0,0,0,0,0,0,0,1,1,0,0,0],[0,0,0,0,0,1,0,2,1,0,0,0]];
const hatchCh2=[[0,0,0,0,0,0,0,0,0,0,0,0],[0,0,1,0,0,0,0,0,0,0,0,0],[0,0,0,0,0,0,0,0,0,0,0,0],[0,0,0,0,0,0,1,0,0,0,0,0],[0,0,0,1,0,0,1,0,0,0,0,0],[0,1,1,1,0,0,1,0,0,0,0,0],[1,1,0,1,0,1,1,1,0,0,0,0],[0,0,0,0,0,0,0,0,0,0,0,0],[0,0,0,1,0,0,1,0,0,0,0,0],[0,0,0,1,0,1,1,0,0,0,0,0]];
const hatchCh3=[[0,0,1,0,0,0,0,0,0,0,0,0],[0,1,0,0,0,0,0,0,0,0,0,0],[0,0,0,0,0,0,0,1,1,0,1,1],[0,0,0,0,0,0,0,0,1,1,0,1],[0,0,0,0,0,0,0,0,0,1,1,0],[0,1,1,0,0,0,0,0,1,1,1,1],[0,0,1,1,1,0,0,0,0,0,1,1],[0,0,0,0,0,0,0,0,0,0,0,0],[0,0,0,0,0,0,0,0,0,0,0,0],[0,0,1,0,0,0,0,0,1,0,1,0]];

const svg=document.getElementById('figure');
const NS='http://www.w3.org/2000/svg';

function make(parent,tag,name){
  const el=document.createElementNS(NS,tag);
  
  
  parent.appendChild(el);
  return el;
}
function set(el,obj){for(const k in obj)el.setAttribute(k,obj[k]);return el;}

function ease(t){return t*t*(3-2*t);}
function sampler(field,sharp){
  const rows=field.length,cols=field[0].length;
  return function(fx,fy){
    let u=fx*cols-.5,v=fy*rows-.5;
    u=Math.max(0,Math.min(cols-1,u));v=Math.max(0,Math.min(rows-1,v));
    const i=Math.min(cols-2,Math.floor(u)),j=Math.min(rows-2,Math.floor(v));
    let a=u-i,b=v-j;
    if(sharp){a=ease(ease(a));b=ease(ease(b));}
    return field[j][i]*(1-a)*(1-b)+field[j][i+1]*a*(1-b)+field[j+1][i]*(1-a)*b+field[j+1][i+1]*a*b;
  };
}

function drawField(g,p,spec,name){
  const base=sampler(spec.base,spec.sharp),diff=spec.diff?sampler(spec.diff,false):null;
  const step=3,nx=Math.ceil(p.w/step),ny=Math.ceil(p.h/step);
  const ds=spec.palette.map(()=>[]);
  for(let j=0;j<ny;j++){
    const fy=(j+.5)/ny;let run=-1,start=0;
    const y=p.y+j*step,hh=Math.min(step,p.y+p.h-y);
    for(let i=0;i<=nx;i++){
      let c=-2;
      if(i<nx){
        const fx=(i+.5)/nx;
        let v=base(fx,fy);
        if(spec.snap&&v>spec.snap[0]&&v<spec.snap[1])v=spec.snap[0];
        if(diff)v+=(diff(fx,fy)-spec.zero)*spec.scale;
        c=Math.max(0,Math.min(spec.palette.length-1,Math.round(v)));
      }
      if(c!==run){
        if(run>=0){
          const x=p.x+start*step,ww=Math.min((i-start)*step,p.x+p.w-x);
          ds[run].push('M'+x.toFixed(1)+' '+y.toFixed(1)+'h'+ww.toFixed(1)+'v'+hh.toFixed(1)+'h-'+ww.toFixed(1)+'z');
        }
        run=c;start=i;
      }
    }
  }
  ds.forEach((d,i)=>{
    if(!d.length)return;
    const path=make(g,'path',name+'-level-'+i);
    set(path,{d:d.join(''),fill:spec.palette[i],'shape-rendering':'crispEdges'});
  });
}

function drawHatch(g,p,mask,name,width){
  const rows=mask.length,cols=mask[0].length,slope=.36,gap=p.h*.064;
  let d='',line=0;
  for(let x0=0;x0<p.w+slope*p.h;x0+=gap,line++){
    let on=false;
    for(let yy=0;yy<=p.h;yy+=2.5){
      const xx=x0-slope*yy;let draw=false;
      if(xx>=0&&xx<p.w&&yy<p.h){
        const m=mask[Math.min(rows-1,Math.floor(yy/p.h*rows))][Math.min(cols-1,Math.floor(xx/p.w*cols))];
        if(m===2)draw=true;
        else if(m===1)draw=(Math.floor((yy+line*13)/21)%2===0);
      }
      if(draw){d+=(on?'L':'M')+(p.x+xx).toFixed(1)+' '+(p.y+yy).toFixed(1);on=true;}
      else on=false;
    }
  }
  const path=make(g,'path',name+'-significance-hatching');
  set(path,{d:d,fill:'none',stroke:'#000','stroke-width':width});
}

function drawRiver(g,p,xs,ys,color,width,name,dash){
  const d=xs.map((lon,i)=>(i?'L':'M')+p.lonX(lon).toFixed(1)+' '+p.latY(ys[i]).toFixed(1)).join('');
  const path=make(g,'path',name);
  set(path,{d:d,fill:'none',stroke:color,'stroke-width':width,'stroke-linecap':'round','stroke-linejoin':'round'});
  if(dash)path.setAttribute('stroke-dasharray',dash);
}
function drawSpots(g,p,lons,lats,color,r,name){
  lons.forEach((lon,i)=>{
    const c=make(g,'circle',name);
    set(c,{cx:p.lonX(lon).toFixed(1),cy:p.latY(lats[i]).toFixed(1),r:r,fill:color});
  });
}

function drawText(parent,name,str,x,y,size,sx,anchor){
  const t=make(parent,'text',name);
  set(t,{transform:'translate('+x+' '+y+') scale('+sx+' 1)','font-size':size,'text-anchor':anchor});
  const parts=str.split(/[_^]/);
  if(parts.length===1){t.textContent=str;return t;}
  const sign=str.indexOf('_')>=0?1:-1;
  const shift=sign>0?size*.22:size*.38;
  const a=document.createElementNS(NS,'tspan');a.textContent=parts[0];t.appendChild(a);
  const b=document.createElementNS(NS,'tspan');b.textContent=parts[1];
  set(b,{'font-size':size*.62,dy:sign*shift});t.appendChild(b);
  const c=document.createElementNS(NS,'tspan');c.textContent=parts[2];
  set(c,{dy:-sign*shift});t.appendChild(c);
  return t;
}

function drawPanel(row,idx){
  const cfg=row.panels[idx];
  const p={x:row.x[idx],y:row.top,w:row.w,h:row.h};
  p.lonX=lon=>p.x+(lon-lonRange[0])/(lonRange[1]-lonRange[0])*p.w;
  p.latY=lat=>p.y+(lat-latRange[0])/(latRange[1]-latRange[0])*p.h;
  const name=cfg.id;
  const g=make(svg,'g','panel-'+name);
  drawField(g,p,cfg.spec,'map-'+name);
  if(row.water==='brown'){
    drawRiver(g,p,riverLons,riverLats,paletteZl[16],5,'river-'+name);
    drawRiver(g,p,southLakeLons,southLakeLats,paletteZl[16],6,'south-lake-'+name);
    drawSpots(g,p,hotSpotLons,hotSpotLats,paletteZl[16],4.5,'hot-spot-'+name);
  }else if(row.water==='mixed'){
    drawRiver(g,p,riverLons,riverLats,paletteZlDiff[20],4.5,'river-'+name);
    drawRiver(g,p,riverLons,riverLats,paletteZlDiff[1],4.5,'river-blue-'+name,'5 14');
    drawRiver(g,p,southLakeLons,southLakeLats,paletteZlDiff[20],4,'south-lake-'+name);
    drawSpots(g,p,hotSpotLons,hotSpotLats,paletteZlDiff[20],3.5,'hot-spot-'+name);
  }else if(row.water==='blue'){
    const col=row.waterColor;
    drawRiver(g,p,riverLons,riverLats,col,3,'river-'+name);
    drawRiver(g,p,southLakeLons,southLakeLats,col,4,'south-lake-'+name);
    drawSpots(g,p,lakeLons,lakeLats,col,3,'lake-'+name);
  }
  if(cfg.hatch)drawHatch(g,p,cfg.hatch,name,cfg.hatchWidth||2);

  const frame=make(g,'rect','frame-'+name);
  set(frame,{x:p.x,y:p.y,width:p.w,height:p.h,fill:'none',stroke:'#000','stroke-width':3});

  latTicks.forEach(lat=>{
    const y=p.latY(lat);
    const tk=make(g,'line','lat-tick-'+lat+'-'+name);
    set(tk,{x1:p.x-11,x2:p.x,y1:y,y2:y,stroke:'#000','stroke-width':3});
    drawText(g,'lat-label-'+lat+'-'+name,lat+'N',p.x-39,(y+row.tickSize*.358).toFixed(1),row.tickSize,row.tickSx,'end');
  });
  lonTicks.forEach(lon=>{
    const x=p.lonX(lon);
    const tk=make(g,'line','lon-tick-'+lon+'-'+name);
    set(tk,{x1:x,x2:x,y1:p.y+p.h,y2:p.y+p.h+11,stroke:'#000','stroke-width':3});
    drawText(g,'lon-label-'+lon+'-'+name,lon+'E',x.toFixed(1),row.lonBase,row.tickSize,row.tickSx,'middle');
  });
  drawText(g,'title-'+name,cfg.title,(p.x+p.w/2-5).toFixed(1),row.titleBase,row.titleSize,row.titleSx,'middle');
}

function drawBar(bar){
  const g=make(svg,'g','colorbar-'+bar.id);
  const pal=bar.palette,n=pal.length-2,y0=bar.y0,y1=bar.y1,mid=(y0+y1)/2;
  const end=bar.start+n*bar.seg;
  const lt=make(g,'polygon','colorbar-min-arrow-'+bar.id);
  set(lt,{points:bar.tipL+','+mid+' '+bar.start+','+y0+' '+bar.start+','+y1,fill:pal[0],stroke:'#222','stroke-width':1.2});
  for(let i=0;i<n;i++){
    const r=make(g,'rect','colorbar-segment-'+bar.id+'-'+i);
    set(r,{x:bar.start+i*bar.seg,y:y0,width:bar.seg,height:y1-y0,fill:pal[i+1],stroke:'#222','stroke-width':1.6});
  }
  const rt=make(g,'polygon','colorbar-max-arrow-'+bar.id);
  set(rt,{points:bar.tipR+','+mid+' '+end+','+y0+' '+end+','+y1,fill:pal[n+1],stroke:'#222','stroke-width':1.2});
  bar.labels.forEach((s,i)=>{
    drawText(g,'colorbar-label-'+bar.id+'-'+i,s,(bar.start+i*bar.every*bar.seg).toFixed(1),bar.base,bar.size,bar.sx,'middle');
  });
  if(bar.unit){
    drawText(g,'colorbar-scale-'+bar.id,bar.unit,bar.unitX,bar.unitBase,bar.unitSize,bar.unitSx,'middle');
  }
}

const specZl=(d)=>({base:zlCtrl,diff:d,zero:10.5,scale:.3,palette:paletteZl});
const specZlD=(d)=>({base:d,palette:paletteZlDiff});
const specCd=(d)=>({base:cdCtrl,diff:d,zero:4.5,scale:.25,palette:paletteCd,sharp:true,snap:[10.4,14.5]});
const specCdD=(d)=>({base:d,palette:paletteCdDiff});
const specCh=(d)=>({base:chCtrl,diff:d,zero:3.5,scale:.2,palette:paletteCh,sharp:true});
const specChD=(d)=>({base:d,palette:paletteChDiff});

const rows=[
{top:54,h:297,w:369,x:[119.4,640,1160.6,1681],titleBase:39,lonBase:423.5,tickSize:42,tickSx:.97,titleSize:48,titleSx:1.04,water:'brown',panels:[
 {id:'a1',title:'(a1) z/L: CTRL',spec:specZl(null)},
 {id:'a2',title:'(a2) z/L: Exp1',spec:specZl(zlDiffExp1)},
 {id:'a3',title:'(a3) z/L: Exp2',spec:specZl(zlDiffExp2)},
 {id:'a4',title:'(a4) z/L: Exp3',spec:specZl(zlDiffExp3)}]},
{top:648,h:297,w:369,x:[639,1160.6,1681],titleBase:632,lonBase:1017,tickSize:42,tickSx:.97,titleSize:48,titleSx:1.04,water:'mixed',panels:[
 {id:'b1',title:'(b1) z/L: (a2 - a1)',spec:specZlD(zlDiffExp1),hatch:hatchZl1},
 {id:'b2',title:'(b2) z/L: (a3 - a1)',spec:specZlD(zlDiffExp2),hatch:hatchZl2},
 {id:'b3',title:'(b3) z/L: (a4 - a1)',spec:specZlD(zlDiffExp3),hatch:hatchZl3}]},
{top:1236.6,h:282.4,w:367,x:[119,637,1155,1673],titleBase:1220,lonBase:1587,tickSize:41,tickSx:1,titleSize:48,titleSx:1.04,water:'blue',waterColor:paletteCd[3],panels:[
 {id:'c1',title:'(c1) C_D_: CTRL',spec:specCd(null)},
 {id:'c2',title:'(c2) C_D_: Exp1',spec:specCd(cdDiffExp1)},
 {id:'c3',title:'(c3) C_D_: Exp2',spec:specCd(cdDiffExp2)},
 {id:'c4',title:'(c4) C_D_: Exp3',spec:specCd(cdDiffExp3)}]},
{top:1817,h:283,w:368,x:[637,1155.6,1675],titleBase:1801,lonBase:2168,tickSize:41,tickSx:1,titleSize:48,titleSx:1.04,panels:[
 {id:'d1',title:'(d1) C_D_: (c2 - c1)',spec:specCdD(cdDiffExp1)},
 {id:'d2',title:'(d2) C_D_: (c3 - c1)',spec:specCdD(cdDiffExp2)},
 {id:'d3',title:'(d3) C_D_: (c4 - c1)',spec:specCdD(cdDiffExp3),hatch:hatchCd3,hatchWidth:1.5}]},
{top:2425,h:269,w:365,x:[145,661,1177,1693],titleBase:2409,lonBase:2759,tickSize:40,tickSx:1.03,titleSize:46,titleSx:1.08,water:'blue',waterColor:paletteCh[3],panels:[
 {id:'e1',title:'(e1) C_H_: CTRL',spec:specCh(null)},
 {id:'e2',title:'(e2) C_H_: Exp1',spec:specCh(chDiffExp1)},
 {id:'e3',title:'(e3) C_H_: Exp2',spec:specCh(chDiffExp2)},
 {id:'e4',title:'(e4) C_H_: Exp3',spec:specCh(chDiffExp3)}]},
{top:3009,h:270,w:365,x:[661,1177,1693],titleBase:2993,lonBase:3342,tickSize:40,tickSx:1.03,titleSize:46,titleSx:1.08,panels:[
 {id:'f1',title:'(f1) C_H_: (e2 - e1)',spec:specChD(chDiffExp1),hatch:hatchCh1},
 {id:'f2',title:'(f2) C_H_: (e3 - e1)',spec:specChD(chDiffExp2),hatch:hatchCh2},
 {id:'f3',title:'(f3) C_H_: (e4 - e1)',spec:specChD(chDiffExp3),hatch:hatchCh3}]}
];

const bars=[
{id:'zl',palette:paletteZl,labels:barLabelsZl,start:388,seg:91.9,every:2,tipL:296.5,tipR:1950,y0:459,y1:477,base:518,size:49,sx:1},
{id:'zl-diff',palette:paletteZlDiff,labels:barLabelsZlDiff,start:807,seg:53.7,every:2,tipL:753,tipR:1935.6,y0:1052,y1:1071,base:1112.7,size:49,sx:1},
{id:'cd',palette:paletteCd,labels:barLabelsCd,start:373,seg:78.5,every:2,tipL:296,tipR:1943,y0:1621,y1:1640,base:1679,size:48,sx:1,unit:'(x10^-2^)',unitX:1120,unitBase:1727,unitSize:47,unitSx:1.04},
{id:'cd-diff',palette:paletteCdDiff,labels:barLabelsCdDiff,start:868,seg:118,every:1,tipL:750,tipR:1931,y0:2202,y1:2221,base:2259,size:47,sx:1.03,unit:'(x10^-2^)',unitX:1339,unitBase:2305,unitSize:47,unitSx:1.04},
{id:'ch',palette:paletteCh,labels:barLabelsCh,start:412,seg:91,every:1,tipL:320,tipR:1958,y0:2791,y1:2809,base:2846,size:46,sx:1.04,unit:'(x10^-3^)',unitX:1140,unitBase:2889,unitSize:47,unitSx:1.04},
{id:'ch-diff',palette:paletteChDiff,labels:barLabelsChDiff,start:921,seg:145.5,every:1,tipL:773,tipR:1943,y0:3376,y1:3393.5,base:3429.5,size:46,sx:1.04,unit:'(x10^-3^)',unitX:1359,unitBase:3476,unitSize:47,unitSx:1.04}
];

rows.forEach(row=>row.panels.forEach((_,i)=>drawPanel(row,i)));
bars.forEach(drawBar);
</script>
</body>
</html>
